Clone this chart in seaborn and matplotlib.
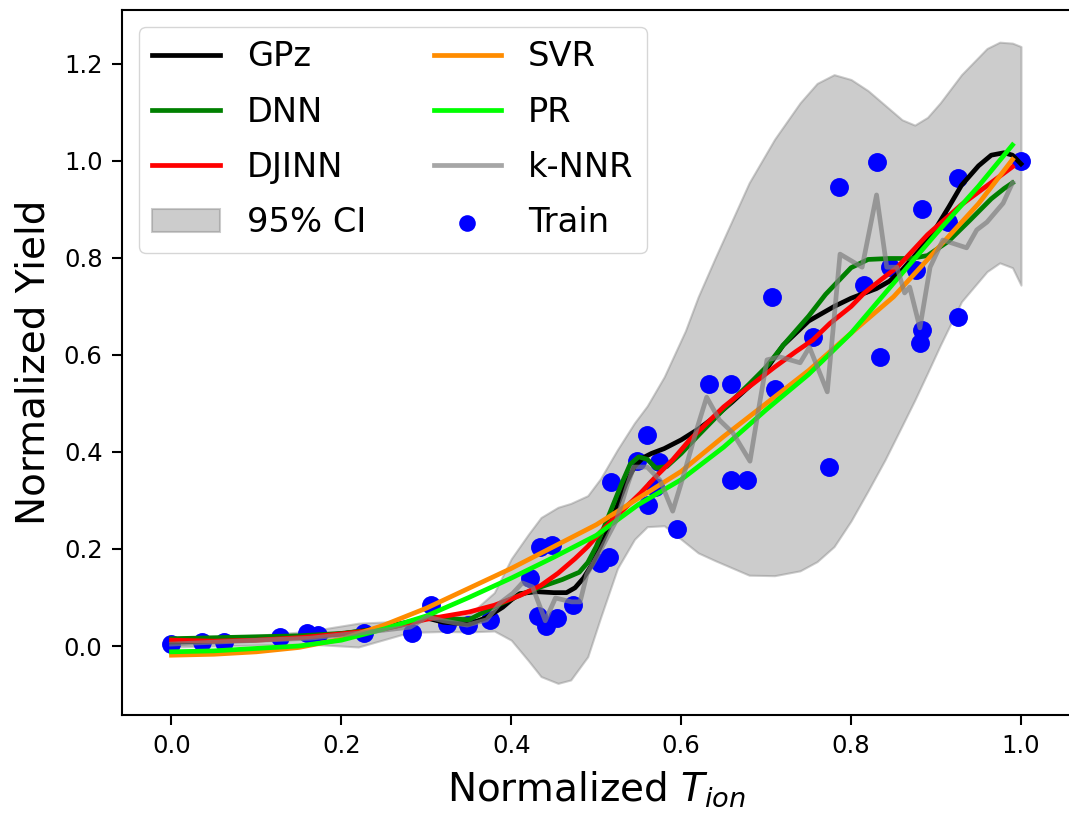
import matplotlib
matplotlib.use("Agg")
import matplotlib.pyplot as plt
import seaborn as sns

# Training samples
train_x = [0.000, 0.036, 0.062, 0.128, 0.160, 0.172, 0.227, 0.283, 0.305, 0.324,
           0.349, 0.375, 0.422, 0.434, 0.448, 0.431, 0.441, 0.454, 0.473, 0.504,
           0.515, 0.517, 0.548, 0.560, 0.574, 0.569, 0.561, 0.595, 0.633, 0.659,
           0.659, 0.677, 0.707, 0.710, 0.755, 0.774, 0.786, 0.815, 0.830, 0.834,
           0.846, 0.877, 0.881, 0.883, 0.883, 0.914, 0.926, 0.926, 1.000]
train_y = [0.005, 0.008, 0.008, 0.019, 0.027, 0.023, 0.027, 0.027, 0.085, 0.045,
           0.043, 0.054, 0.140, 0.204, 0.208, 0.062, 0.041, 0.058, 0.085, 0.171,
           0.184, 0.338, 0.381, 0.435, 0.379, 0.328, 0.291, 0.241, 0.540, 0.540,
           0.342, 0.342, 0.720, 0.530, 0.637, 0.369, 0.946, 0.744, 0.998, 0.596,
           0.781, 0.775, 0.625, 0.652, 0.901, 0.874, 0.678, 0.965, 1.000]

# GPz mean and 95% interval
gpz_x = [0.00, 0.05, 0.10, 0.15, 0.20, 0.24, 0.27, 0.30, 0.32, 0.35, 0.37, 0.39,
         0.40, 0.41, 0.43, 0.45, 0.465, 0.475, 0.485, 0.495, 0.505, 0.515, 0.525, 0.535,
         0.545, 0.555, 0.565, 0.58, 0.60, 0.62, 0.64, 0.66, 0.68, 0.70, 0.72, 0.75, 0.78,
         0.80, 0.83, 0.845, 0.86, 0.88, 0.90, 0.915, 0.93, 0.95, 0.965, 0.98, 0.99, 1.00]
gpz_y = [0.008, 0.010, 0.013, 0.018, 0.025, 0.035, 0.046, 0.058, 0.049, 0.045, 0.058, 0.080,
         0.095, 0.108, 0.112, 0.110, 0.110, 0.120, 0.140, 0.168, 0.205, 0.245, 0.290, 0.335,
         0.370, 0.388, 0.397, 0.407, 0.425, 0.447, 0.473, 0.503, 0.535, 0.570, 0.620, 0.670, 0.700,
         0.717, 0.737, 0.752, 0.775, 0.815, 0.862, 0.905, 0.950, 0.990, 1.012, 1.017, 1.012, 0.994]

ci_x = [0.00, 0.05, 0.10, 0.16, 0.22, 0.28, 0.32, 0.35, 0.38, 0.40, 0.42, 0.435, 0.455,
        0.47, 0.49, 0.505, 0.525, 0.545, 0.56, 0.58, 0.605, 0.62, 0.64, 0.68, 0.71,
        0.74, 0.76, 0.78, 0.80, 0.82, 0.84, 0.86, 0.875, 0.89, 0.905, 0.93, 0.96,
        0.975, 0.99, 1.00]
ci_upper = [0.018, 0.020, 0.022, 0.030, 0.047, 0.052, 0.057, 0.064, 0.110, 0.180, 0.230, 0.265, 0.286,
            0.294, 0.310, 0.345, 0.405, 0.460, 0.495, 0.555, 0.650, 0.720, 0.800, 0.955, 1.045,
            1.120, 1.160, 1.178, 1.168, 1.145, 1.115, 1.085, 1.074, 1.090, 1.120, 1.178, 1.232,
            1.245, 1.243, 1.236]
ci_lower = [-0.002, 0.000, 0.002, 0.004, -0.002, 0.028, 0.030, 0.029, 0.031, 0.012, -0.030, -0.063, -0.077,
            -0.070, -0.022, 0.058, 0.160, 0.220, 0.246, 0.248, 0.213, 0.192, 0.176, 0.146, 0.145,
            0.155, 0.174, 0.205, 0.258, 0.320, 0.384, 0.454, 0.507, 0.563, 0.620, 0.710, 0.772,
            0.790, 0.780, 0.744]

# DNN
dnn_x = [0.00, 0.05, 0.10, 0.15, 0.20, 0.25, 0.27, 0.30, 0.31, 0.33, 0.35, 0.38, 0.41,
         0.435, 0.46, 0.48, 0.49, 0.50, 0.515, 0.53, 0.54, 0.55, 0.56, 0.57, 0.583, 0.60,
         0.62, 0.64, 0.66, 0.68, 0.70, 0.72, 0.75, 0.77, 0.80, 0.82, 0.845, 0.87, 0.89,
         0.915, 0.94, 0.965, 0.98, 0.99]
dnn_y = [0.015, 0.017, 0.019, 0.021, 0.026, 0.036, 0.043, 0.058, 0.060, 0.056, 0.054, 0.081, 0.105,
         0.122, 0.137, 0.152, 0.172, 0.205, 0.270, 0.335, 0.375, 0.390, 0.385, 0.367, 0.370, 0.397,
         0.434, 0.470, 0.506, 0.540, 0.575, 0.620, 0.680, 0.725, 0.780, 0.797, 0.799, 0.799, 0.805,
         0.835, 0.878, 0.922, 0.943, 0.955]

# DJINN
djinn_x = [0.00, 0.05, 0.10, 0.15, 0.20, 0.25, 0.30, 0.35, 0.38, 0.41, 0.435, 0.455, 0.475,
           0.49, 0.505, 0.53, 0.552, 0.57, 0.59, 0.61, 0.63, 0.65, 0.67, 0.69, 0.71, 0.735,
           0.755, 0.775, 0.80, 0.815, 0.835, 0.855, 0.89, 0.93, 0.97, 0.99]
djinn_y = [0.012, 0.010, 0.012, 0.017, 0.025, 0.035, 0.055, 0.070, 0.084, 0.104, 0.125, 0.150, 0.180,
           0.205, 0.235, 0.278, 0.315, 0.349, 0.384, 0.425, 0.459, 0.493, 0.521, 0.548, 0.575, 0.607,
           0.631, 0.665, 0.700, 0.727, 0.755, 0.782, 0.848, 0.910, 0.962, 0.988]

# SVR
svr_x = [0.00, 0.05, 0.10, 0.15, 0.20, 0.25, 0.30, 0.35, 0.40, 0.45, 0.50, 0.55, 0.60,
         0.65, 0.70, 0.75, 0.80, 0.85, 0.90, 0.95, 0.99]
svr_y = [-0.019, -0.017, -0.012, -0.003, 0.014, 0.043, 0.078, 0.119, 0.160, 0.205, 0.250, 0.305, 0.360,
         0.432, 0.500, 0.568, 0.645, 0.720, 0.816, 0.912, 1.003]

# PR
pr_x = [0.00, 0.05, 0.10, 0.15, 0.20, 0.25, 0.30, 0.35, 0.40, 0.45, 0.50, 0.55, 0.60,
        0.65, 0.70, 0.75, 0.80, 0.85, 0.90, 0.95, 0.99]
pr_y = [-0.012, -0.010, -0.005, 0.000, 0.012, 0.035, 0.062, 0.100, 0.140, 0.183, 0.228, 0.292, 0.343,
        0.410, 0.487, 0.560, 0.645, 0.748, 0.850, 0.948, 1.033]

# k-NNR
knn_x = [0.000, 0.104, 0.163, 0.222, 0.281, 0.301, 0.320, 0.348, 0.371, 0.387, 0.402, 0.413,
         0.425, 0.440, 0.452, 0.471, 0.481, 0.489, 0.504, 0.524, 0.536, 0.544, 0.560, 0.575,
         0.590, 0.604, 0.618, 0.630, 0.645, 0.661, 0.681, 0.689, 0.701, 0.716, 0.740, 0.751,
         0.772, 0.787, 0.813, 0.830, 0.842, 0.854, 0.863, 0.869, 0.881, 0.893, 0.908, 0.936,
         0.948, 0.960, 0.979, 0.990]
knn_y = [0.004, 0.012, 0.016, 0.027, 0.039, 0.060, 0.052, 0.043, 0.054, 0.089, 0.109, 0.130,
         0.122, 0.052, 0.099, 0.091, 0.091, 0.148, 0.194, 0.260, 0.328, 0.369, 0.369, 0.342,
         0.278, 0.359, 0.445, 0.513, 0.466, 0.439, 0.381, 0.466, 0.590, 0.596, 0.584, 0.616,
         0.524, 0.808, 0.781, 0.930, 0.781, 0.781, 0.728, 0.740, 0.656, 0.781, 0.837, 0.821,
         0.858, 0.874, 0.913, 0.955]

x_ticks = [0.0, 0.2, 0.4, 0.6, 0.8, 1.0]
y_ticks = [0.0, 0.2, 0.4, 0.6, 0.8, 1.0, 1.2]

fig = plt.figure(figsize=(10.69, 8.14), dpi=100)
ax = fig.add_axes([0.1141, 0.1216, 0.8873, 0.8661])

ax.fill_between(ci_x, ci_lower, ci_upper, color="gray", alpha=0.4, lw=1.5,
                label="95% CI", zorder=1)
sns.scatterplot(x=train_x, y=train_y, color="blue", s=185, linewidth=0,
                label="Train", ax=ax, zorder=1.5)

lw = 3.4
sns.lineplot(x=gpz_x, y=gpz_y, color="black", lw=lw, label="GPz", ax=ax)
sns.lineplot(x=dnn_x, y=dnn_y, color="green", lw=lw, label="DNN", ax=ax)
sns.lineplot(x=djinn_x, y=djinn_y, color="red", lw=lw, label="DJINN", ax=ax)
sns.lineplot(x=svr_x, y=svr_y, color="darkorange", lw=lw, label="SVR", ax=ax)
sns.lineplot(x=pr_x, y=pr_y, color="lime", lw=lw, label="PR", ax=ax)
sns.lineplot(x=knn_x, y=knn_y, color="gray", alpha=0.7, lw=lw, label="k-NNR", ax=ax)

ax.set_xlim(-0.0583, 1.0583)
ax.set_ylim(-0.1423, 1.3113)
ax.set_xticks(x_ticks)
ax.set_yticks(y_ticks)
ax.set_xticklabels([f"{t:.1f}" for t in x_ticks])
ax.set_yticklabels([f"{t:.1f}" for t in y_ticks])
ax.tick_params(labelsize=17.5, length=7, width=1.5, pad=7)
for sp in ax.spines.values():
    sp.set_linewidth(1.5)

ax.set_xlabel("Normalized $T_{ion}$", fontsize=28, labelpad=8)
ax.set_ylabel("Normalized Yield", fontsize=28, labelpad=8)

handles, labels = ax.get_legend_handles_labels()
lookup = dict(zip(labels, handles))
order = ["GPz", "DNN", "DJINN", "95% CI", "SVR", "PR", "k-NNR", "Train"]
ax.legend([lookup[k] for k in order], order, loc="upper left", ncol=2,
          fontsize=24.3, markerscale=0.88, labelspacing=0.66, columnspacing=2.0)

fig.savefig("out.png", dpi=100)
